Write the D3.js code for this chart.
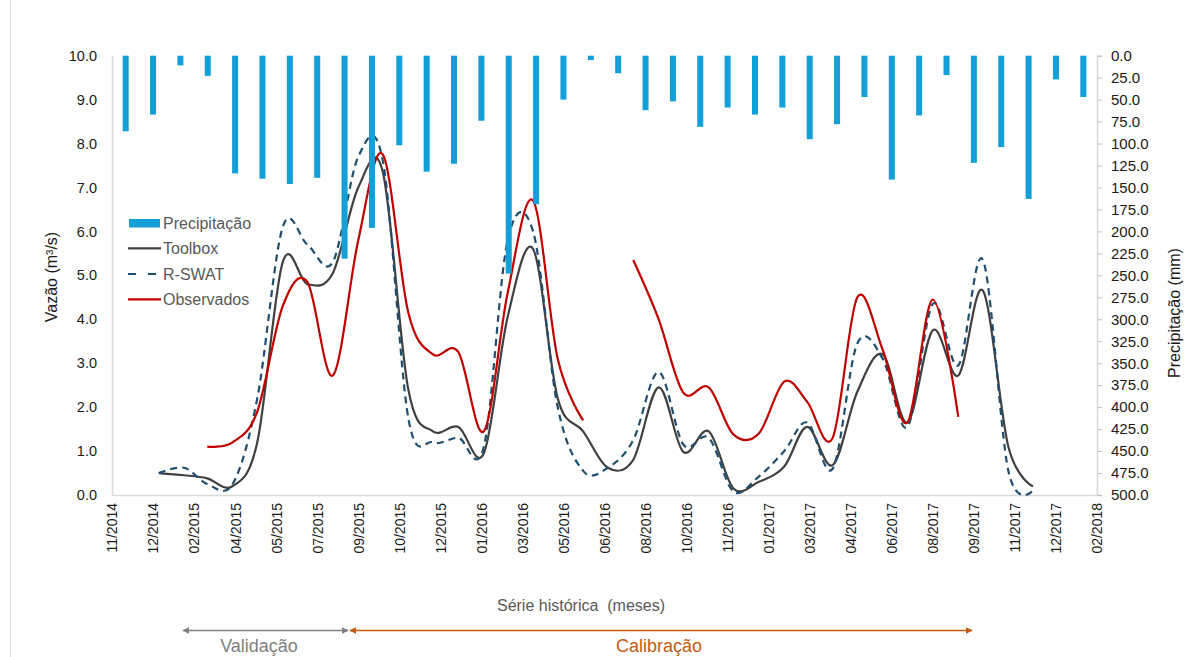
<!DOCTYPE html>
<html>
<head>
<meta charset="utf-8">
<script src="https://cdn.jsdelivr.net/npm/d3@7"></script>
<style>
    body { margin: 0; background: #fff; }
    text { font-family: "Liberation Sans", Arial, sans-serif; }
</style>
</head>
<body>
<svg id="chart"></svg>
<script>
const   width  = 1202,
        height = 657;

const PLOT = {
    "LEFT": 112,
    "RIGHT": 1097,
    "TOP": 55.7,
    "BOTTOM": 495,
};

// months of the series (first day of each month)
const months = [
    "2015-01","2015-02","2015-03","2015-04","2015-05","2015-06","2015-07","2015-08","2015-09","2015-10","2015-11","2015-12",
    "2016-01","2016-02","2016-03","2016-04","2016-05","2016-06","2016-07","2016-08","2016-09","2016-10","2016-11","2016-12",
    "2017-01","2017-02","2017-03","2017-04","2017-05","2017-06","2017-07","2017-08","2017-09","2017-10","2017-11","2017-12"
];

// precipitation (mm)
const precipitacao = [
    86, 67, 11, 23, 134, 140, 146, 139, 231, 196, 102, 132,
    123, 74, 248, 169, 50, 5, 20, 62, 52, 81, 59, 67,
    59, 95, 78, 47, 141, 68, 22, 122, 104, 163, 27, 47
];

// discharge (m3/s)
const toolbox = [
    0.5, 0.45, 0.38, 0.2, 1.2, 5.3, 4.8, 5.05, 7.0, 7.35, 2.4, 1.45,
    1.55, 0.95, 4.05, 5.6, 2.2, 1.45, 0.62, 0.8, 2.45, 0.98, 1.45, 0.15,
    0.3, 0.65, 1.55, 0.68, 2.35, 3.2, 1.65, 3.75, 2.72, 4.65, 1.1, 0.2
];

const rswat = [
    0.5, 0.62, 0.25, 0.25, 2.2, 6.1, 5.7, 5.3, 7.7, 7.6, 1.75, 1.2,
    1.3, 1.1, 5.8, 6.0, 2.0, 0.55, 0.62, 1.25, 2.8, 1.15, 1.3, 0.08,
    0.42, 1.0, 1.65, 0.6, 3.45, 3.1, 1.55, 4.35, 2.95, 5.35, 0.55, 0.1
];

const observados = [
    null, null, 1.1, 1.2, 1.9, 4.3, 4.85, 2.72, 5.8, 7.75, 4.15, 3.2,
    3.25, 1.45, 4.6, 6.7, 3.1, 1.7, null, 5.35, 4.0, 2.33, 2.45, 1.38,
    1.4, 2.58, 2.12, 1.3, 4.5, 3.3, 1.65, 4.45, 1.78, null, null, null
];

// date axis labels (Excel date axis, major unit 50 days)
const xTickLabels = [
    "11/2014","12/2014","02/2015","04/2015","05/2015","07/2015","09/2015","10/2015","12/2015",
    "01/2016","03/2016","05/2016","06/2016","08/2016","10/2016","11/2016","01/2017","03/2017",
    "04/2017","06/2017","08/2017","09/2017","11/2017","12/2017","02/2018"
];
const leftTicks  = [0,1,2,3,4,5,6,7,8,9,10];
const rightTicks = d3.range(0, 501, 25);

const parseMonth = d3.timeParse("%Y-%m");
const xStart = new Date(2014, 10, 5);
const xEnd = d3.timeDay.offset(xStart, 1200);

var svg = d3.select("#chart")
    .attr("width", width)
    .attr("height", height);

// faint chart border on the left
svg.append("line")
    .attr("x1", 10.5).attr("x2", 10.5)
    .attr("y1", 0).attr("y2", height)
    .style("stroke", "#e3e3e3");

const x = d3.scaleTime()
    .domain([xStart, xEnd])
    .range([PLOT.LEFT, PLOT.RIGHT]);

const xBars = d3.scaleBand()
    .domain(months)
    .range([PLOT.LEFT, PLOT.RIGHT])
    .paddingInner(0.78)
    .paddingOuter(0.39);

const yLeft = d3.scaleLinear()
    .domain([0, 10])
    .range([PLOT.BOTTOM, PLOT.TOP]);

const yRight = d3.scaleLinear()
    .domain([0, 500])
    .range([PLOT.TOP, PLOT.BOTTOM]);

// ---- axes
const gLeft = svg.append("g")
    .attr("transform", `translate(${PLOT.LEFT},0)`)
    .call(d3.axisLeft(yLeft).tickValues(leftTicks).tickFormat(d3.format(".1f")).tickSize(0).tickPadding(15));
gLeft.selectAll("text").style("font-size", "14.5px").style("fill", "#1a1a1a");

const gRight = svg.append("g")
    .attr("transform", `translate(${PLOT.RIGHT},0)`)
    .call(d3.axisRight(yRight).tickValues(rightTicks).tickFormat(d3.format(".1f")).tickSize(5).tickPadding(9));
gRight.selectAll("text").style("font-size", "15px").style("fill", "#1a1a1a");
gRight.selectAll(".tick line").style("stroke", "#bfbfbf");

const tickDates = xTickLabels.map((l, i) => d3.timeDay.offset(xStart, i * 50));
const gBottom = svg.append("g")
    .attr("transform", `translate(0,${PLOT.BOTTOM})`)
    .call(d3.axisBottom(x).tickValues(tickDates).tickFormat((d, i) => xTickLabels[i]).tickSize(0));
gBottom.selectAll("text")
    .attr("transform", "rotate(-90)")
    .attr("x", -8)
    .attr("y", 0)
    .attr("dy", "0.35em")
    .style("text-anchor", "end")
    .style("font-size", "14px")
    .style("fill", "#1a1a1a");

svg.selectAll(".domain").style("stroke", "#d9d9d9").style("stroke-width", 1.5);

// ---- axis titles
svg.append("text")
    .attr("transform", "translate(57,277) rotate(-90)")
    .attr("text-anchor", "middle")
    .style("font-size", "16px")
    .style("fill", "#1a1a1a")
    .text("Vazão (m³/s)");

svg.append("text")
    .attr("transform", "translate(1180,313) rotate(-90)")
    .attr("text-anchor", "middle")
    .style("font-size", "16px")
    .style("fill", "#1a1a1a")
    .text("Precipitação (mm)");

svg.append("text")
    .attr("x", 581).attr("y", 611)
    .attr("text-anchor", "middle")
    .style("font-size", "16px")
    .style("fill", "#595959")
    .style("white-space", "pre")
    .text("Série histórica  (meses)");

// ---- lines
const lineGen = d3.line()
    .defined(d => d.v !== null)
    .x(d => x(d.date))
    .y(d => yLeft(d.v))
    .curve(d3.curveCatmullRom.alpha(0));

const toSeries = arr => arr.map((v, i) => ({ date: parseMonth(months[i]), v: v }));

svg.append("path")
    .attr("d", lineGen(toSeries(toolbox)))
    .style("fill", "none").style("stroke", "#404040").style("stroke-width", 2.2);

svg.append("path")
    .attr("d", lineGen(toSeries(rswat)))
    .style("fill", "none").style("stroke", "#1f4e6e").style("stroke-width", 2.2)
    .style("stroke-dasharray", "7,5");

svg.append("path")
    .attr("d", lineGen(toSeries(observados)))
    .style("fill", "none").style("stroke", "#c00000").style("stroke-width", 2.2);

// ---- precipitation bars (secondary axis, hanging from the top)
svg.append("g").selectAll("rect")
    .data(precipitacao)
    .enter()
    .append("rect")
    .attr("x", (d, i) => xBars(months[i]))
    .attr("width", xBars.bandwidth())
    .attr("y", yRight(0))
    .attr("height", d => yRight(d) - yRight(0))
    .style("fill", "#13a0d8");

// ---- legend
const legend = svg.append("g");
legend.append("rect")
    .attr("x", 129).attr("y", 219).attr("width", 31).attr("height", 8.5)
    .style("fill", "#13a0d8");
legend.append("line")
    .attr("x1", 128).attr("x2", 161).attr("y1", 248.3).attr("y2", 248.3)
    .style("stroke", "#404040").style("stroke-width", 2.2);
legend.append("line")
    .attr("x1", 128).attr("x2", 161).attr("y1", 274).attr("y2", 274)
    .style("stroke", "#1f4e6e").style("stroke-width", 2.2).style("stroke-dasharray", "8,12");
legend.append("line")
    .attr("x1", 128).attr("x2", 161).attr("y1", 299.3).attr("y2", 299.3)
    .style("stroke", "#c00000").style("stroke-width", 2.2);

const legendLabels = ["Precipitação", "Toolbox", "R-SWAT", "Observados"];
legend.selectAll("text.leg")
    .data(legendLabels)
    .enter()
    .append("text")
    .attr("class", "leg")
    .attr("x", 163)
    .attr("y", (d, i) => 228.5 + i * 25.6)
    .style("font-size", "16px")
    .style("fill", "#595959")
    .text(d => d);

// ---- period arrows
const defs = svg.append("defs");
function marker(id, color) {
    defs.append("marker")
        .attr("id", id)
        .attr("viewBox", "0 0 10 10")
        .attr("refX", 9).attr("refY", 5)
        .attr("markerWidth", 7).attr("markerHeight", 7)
        .attr("markerUnits", "userSpaceOnUse")
        .attr("orient", "auto-start-reverse")
        .append("path")
        .attr("d", "M0,0 L10,5 L0,10 z")
        .style("fill", color);
}
marker("arrGray", "#808080");
marker("arrOrange", "#c55a11");

svg.append("line")
    .attr("x1", 183).attr("x2", 348).attr("y1", 630.5).attr("y2", 630.5)
    .style("stroke", "#808080").style("stroke-width", 1.5)
    .attr("marker-start", "url(#arrGray)").attr("marker-end", "url(#arrGray)");

svg.append("line")
    .attr("x1", 350).attr("x2", 972).attr("y1", 630.5).attr("y2", 630.5)
    .style("stroke", "#c55a11").style("stroke-width", 1.5)
    .attr("marker-start", "url(#arrOrange)").attr("marker-end", "url(#arrOrange)");

svg.append("text")
    .attr("x", 259).attr("y", 652)
    .attr("text-anchor", "middle")
    .style("font-size", "18px")
    .style("fill", "#7f7f7f")
    .text("Validação");

svg.append("text")
    .attr("x", 659).attr("y", 652)
    .attr("text-anchor", "middle")
    .style("font-size", "18px")
    .style("fill", "#c55a11")
    .text("Calibração");
</script>
</body>
</html>
